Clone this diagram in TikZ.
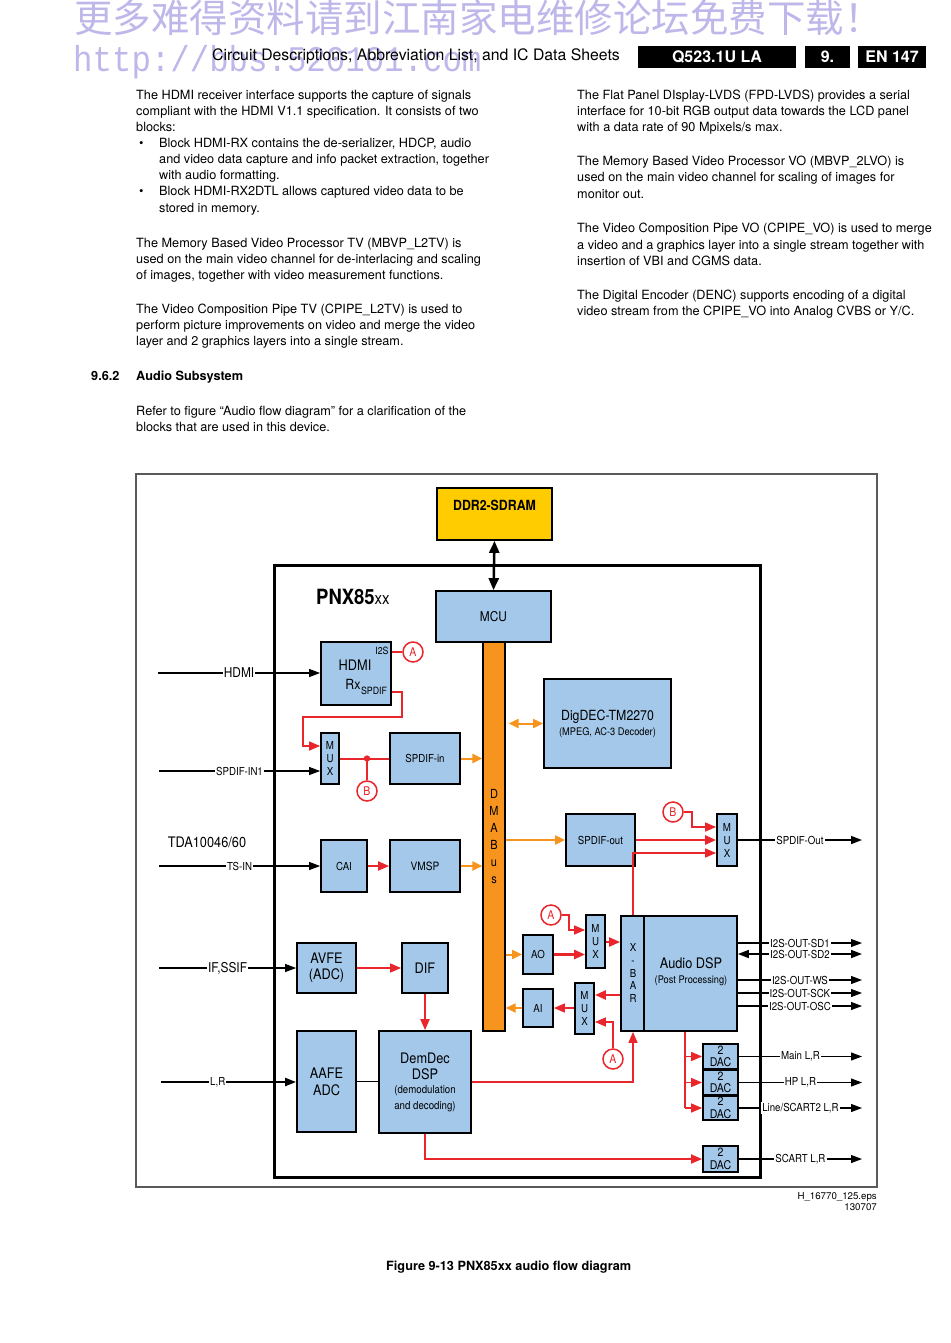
\documentclass[tikz,border=0pt]{standalone}
\usepackage{fontspec}
\setmainfont{TeX Gyre Heros}
\newfontfamily\nar[FakeStretch=0.88]{TeX Gyre Heros}
\newfontfamily\cjk{Noto Sans CJK SC}
\newfontfamily\wmono[FakeStretch=0.9]{Liberation Mono}
\usetikzlibrary{arrows.meta}
\definecolor{blu}{RGB}{163,200,234}
\definecolor{org}{RGB}{247,148,29}
\definecolor{yel}{RGB}{255,204,0}
\definecolor{rd}{RGB}{232,38,43}
\definecolor{wm}{RGB}{190,183,234}
\definecolor{frm}{RGB}{90,90,90}
\newcommand\blkbox[7][]{\node[blk,minimum width={(#5)-(#3)},minimum height={(#6)-(#4)},#1] (#2) at ({((#3)+(#5))/2},{((#4)+(#6))/2}) {#7};}
\newcommand\bt[4]{\node[bodyt] (#1) at (#2,#3) {#4};}
\tikzset{
  blk/.style={draw=black,line width=1.8,fill=blu,inner sep=0,align=center,font=\nar\fontsize{14}{16}\selectfont},
  bodyt/.style={anchor=base west,inner sep=0,font=\fontsize{12.7}{14}\selectfont},
  hbox/.style={fill=black,text=white,inner sep=0,minimum height=22,font=\bfseries\fontsize{16}{16}\selectfont},
  lbl/.style={fill=white,inner sep=1.2,font=\nar\fontsize{11}{11}\selectfont},
  circ/.style={circle,draw=rd,line width=1.5,fill=white,minimum size=20,inner sep=0,text=rd,font=\nar\fontsize{12}{12}\selectfont},
  inl/.style={line width=1.1,-{Triangle[length=11pt,width=8pt]}},
  outl/.style={line width=1.1,-{Triangle[length=11pt,width=8pt]}},
  red1/.style={draw=rd,line width=1.5},
  redar/.style={draw=rd,line width=1.5,-{Triangle[length=11pt,width=9pt]}},
  orar/.style={draw=org,line width=2,-{Triangle[length=10pt,width=9pt]}},
  sml/.style={inner sep=0,font=\nar\fontsize{10}{10}\selectfont}
}
\begin{document}
\begin{tikzpicture}[x=1pt,y=-1pt]
\useasboundingbox (0,0) rectangle (950,1343);
\fill[white] (0,0) rectangle (950,1343);
% watermark
\node[anchor=base west,inner sep=0,text=wm,font=\cjk\fontsize{38.5}{38.5}\selectfont] (wm1) at (74,33) {更多难得资料请到江南家电维修论坛免费下载！};
\node[anchor=base west,inner sep=0,text=wm,font=\wmono\fontsize{36}{36}\selectfont] (wm2) at (73,72) {http://bbs.520101.com};
% header
\node[anchor=base west,inner sep=0,font=\fontsize{15.8}{16}\selectfont] (hdr) at (212,61) {Circuit Descriptions, Abbreviation List, and IC Data Sheets};
\node[hbox,minimum width=158] (hq) at (717,57) {Q523.1U LA};
\node[hbox,minimum width=45] (hn) at (827.5,57) {9.};
\node[hbox,minimum width=68] (he) at (892,57) {EN 147};
% left column
\bt{l1}{136}{100}{The HDMI receiver interface supports the capture of signals}
\bt{l2}{136}{116}{compliant with the HDMI V1.1 specification. It consists of two}
\bt{l3}{136}{132}{blocks:}
\bt{lb1}{139}{148}{•}
\bt{l4}{159}{148}{Block HDMI-RX contains the de-serializer, HDCP, audio}
\bt{l5}{159}{164}{and video data capture and info packet extraction, together}
\bt{l6}{159}{180}{with audio formatting.}
\bt{lb2}{139}{196}{•}
\bt{l7}{159}{196}{Block HDMI-RX2DTL allows captured video data to be}
\bt{l8}{159}{212}{stored in memory.}
\bt{l9}{136}{247}{The Memory Based Video Processor TV (MBVP\_L2TV) is}
\bt{l10}{136}{263}{used on the main video channel for de-interlacing and scaling}
\bt{l11}{136}{279}{of images, together with video measurement functions.}
\bt{l12}{136}{313}{The Video Composition Pipe TV (CPIPE\_L2TV) is used to}
\bt{l13}{136}{329}{perform picture improvements on video and merge the video}
\bt{l14}{136}{345}{layer and 2 graphics layers into a single stream.}
\node[bodyt,font=\bfseries\fontsize{12.7}{14}\selectfont] (hnum) at (91,380) {9.6.2};
\node[bodyt,font=\bfseries\fontsize{12.7}{14}\selectfont] (htit) at (136,380) {Audio Subsystem};
\bt{l15}{136}{415}{Refer to figure “Audio flow diagram” for a clarification of the}
\bt{l16}{136}{431}{blocks that are used in this device.}
% right column
\bt{r1}{577}{100}{The Flat Panel DIsplay-LVDS (FPD-LVDS) provides a serial}
\bt{r2}{577}{116}{interface for 10-bit RGB output data towards the LCD panel}
\bt{r3}{577}{132}{with a data rate of 90 Mpixels/s max.}
\bt{r4}{577}{166}{The Memory Based Video Processor VO (MBVP\_2LVO) is}
\bt{r5}{577}{182}{used on the main video channel for scaling of images for}
\bt{r6}{577}{198}{monitor out.}
\bt{r7}{577}{233}{The Video Composition Pipe VO (CPIPE\_VO) is used to merge}
\bt{r8}{577}{249}{a video and a graphics layer into a single stream together with}
\bt{r9}{577}{265}{insertion of VBI and CGMS data.}
\bt{r10}{577}{299}{The Digital Encoder (DENC) supports encoding of a digital}
\bt{r11}{577}{315}{video stream from the CPIPE\_VO into Analog CVBS or Y/C.}
% ---------------- diagram ----------------
\draw[frm,line width=1.2] (136,474) rectangle (877,1187);
\draw[line width=3] (274,565) rectangle (760,1177);
\node[anchor=west,inner sep=0] (pnx) at (316,597) {\bfseries\nar\fontsize{21}{21}\selectfont PNX85\mdseries\fontsize{17}{17}\selectfont xx};
\node[anchor=center,inner sep=0,font=\nar\fontsize{14.5}{15}\selectfont] (tda) at (207,842) {TDA10046/60};
% blocks
\blkbox[fill=yel]{ddr}{437}{488}{552}{540}{}
\node[inner sep=0,font=\bfseries\nar\fontsize{14}{14}\selectfont] (ddrt) at (494.5,505) {DDR2-SDRAM};
\blkbox[font=\nar\fontsize{13.5}{13.5}\selectfont]{mcu}{436}{591}{551}{642}{MCU}
\blkbox[fill=org,line width=1.2]{dma}{483}{642}{505}{1031}{}
\node[inner sep=0,align=center,font=\nar\fontsize{12.5}{17}\selectfont] (dmat) at (494,837) {D\\M\\A\\B\\u\\s};
\blkbox{hdmi}{321}{642}{391}{705}{}
\node[inner sep=0,font=\nar\fontsize{14.5}{14.5}\selectfont] (hdmit) at (355,665) {HDMI};
\node[inner sep=0,font=\nar\fontsize{14}{14}\selectfont] (rxt) at (353,684) {Rx};
\node[sml] (spdt) at (374,691) {SPDIF};
\node[sml] (i2st) at (382,651) {I2S};
\blkbox[font=\nar\fontsize{11}{13}\selectfont]{mux1}{321}{733}{339}{784}{M\\U\\X}
\blkbox[font=\nar\fontsize{11}{13}\selectfont]{spin}{390}{733}{460}{784}{SPDIF-in}
\blkbox{digdec}{544}{679}{671}{768}{DigDEC-TM2270\\[-1pt]{\fontsize{10.5}{12}\selectfont (MPEG, AC-3 Decoder)}}
\blkbox[font=\nar\fontsize{11}{13}\selectfont]{cai}{321}{840}{367}{892}{CAI}
\blkbox[font=\nar\fontsize{11.5}{13}\selectfont]{vmsp}{390}{840}{460}{892}{VMSP}
\blkbox[font=\nar\fontsize{11}{13}\selectfont]{spout}{566}{814}{635}{866}{SPDIF-out}
\blkbox[font=\nar\fontsize{11}{13}\selectfont]{mux2}{717}{814}{737}{866}{M\\U\\X}
\blkbox{dsp}{621}{916}{737}{1031}{}
\draw[line width=1.5] (644,916) -- (644,1031);
\node[inner sep=0,align=center,font=\nar\fontsize{14.5}{16}\selectfont] (dspt) at (691,972) {Audio DSP\\[-1pt]{\fontsize{10.5}{12}\selectfont (Post Processing)}};
\node[inner sep=0,align=center,font=\nar\fontsize{11}{12.7}\selectfont] (xbart) at (633,973) {X\\-\\B\\A\\R};
\blkbox[font=\nar\fontsize{11}{13}\selectfont]{ao}{523}{935}{553}{974}{AO}
\blkbox[font=\nar\fontsize{11}{13}\selectfont]{ai}{523}{989}{553}{1027}{AI}
\blkbox[font=\nar\fontsize{11}{13}\selectfont]{mux3}{586}{915}{605}{968}{M\\U\\X}
\blkbox[font=\nar\fontsize{11}{13}\selectfont]{mux4}{575}{983}{594}{1034}{M\\U\\X}
\blkbox[font=\nar\fontsize{12}{12.5}\selectfont]{dac1}{703}{1044}{738}{1069}{2\\DAC}
\blkbox[font=\nar\fontsize{12}{12.5}\selectfont]{dac2}{703}{1070}{738}{1095}{2\\DAC}
\blkbox[font=\nar\fontsize{12}{12.5}\selectfont]{dac3}{703}{1096}{738}{1120}{2\\DAC}
\blkbox[font=\nar\fontsize{12}{12.5}\selectfont]{dac4}{703}{1146}{738}{1172}{2\\DAC}
\blkbox[font=\nar\fontsize{14.5}{16}\selectfont]{avfe}{297}{943}{356}{993}{AVFE\\(ADC)}
\blkbox[font=\nar\fontsize{14.5}{16}\selectfont]{dif}{402}{943}{448}{993}{DIF}
\blkbox[font=\nar\fontsize{14.5}{17}\selectfont]{aafe}{297}{1031}{356}{1132}{AAFE\\ADC}
\blkbox[font=\nar\fontsize{14.5}{16}\selectfont]{demdec}{379}{1031}{471}{1133}{DemDec\\DSP\\[-2pt]{\fontsize{11}{12.5}\selectfont (demodulation}\\{\fontsize{11}{12.5}\selectfont and decoding)}}
% circles
\node[circ] (cA1) at (413,652) {A};
\node[circ] (cB1) at (367,791) {B};
\node[circ] (cB2) at (673,812) {B};
\node[circ] (cA2) at (551,915) {A};
\node[circ] (cA3) at (613,1059) {A};
% coordinates
\coordinate (iHdmi) at (158,673);
\coordinate (iSp) at (159,771);
\coordinate (iTs) at (159,866);
\coordinate (iIf) at (159,968);
\coordinate (iLr) at (161,1082);
\coordinate (b1) at (402,717);
\coordinate (b2) at (303,746);
\coordinate (dot1) at (367,758.5);
\coordinate (b3) at (692,827);
\coordinate (b4) at (633,853);
\coordinate (b5) at (569,930);
\coordinate (b6) at (613,1022);
\coordinate (b7) at (633,1082);
\coordinate (b8) at (685,1056.5);
\coordinate (b9) at (685,1082.5);
\coordinate (b10) at (685,1108);
\coordinate (b11) at (425,1159);
\coordinate (oSp) at (862,840);
\coordinate (o1) at (862,943);
\coordinate (o2) at (862,954);
\coordinate (o3) at (862,980);
\coordinate (o4) at (862,993);
\coordinate (o5) at (862,1006);
\coordinate (oM) at (862,1056.5);
\coordinate (oH) at (862,1082.5);
\coordinate (oL) at (862,1108);
\coordinate (oS) at (862,1159);
% connectors
\draw[line width=2.5,{Triangle[length=12pt,width=10pt]}-{Triangle[length=12pt,width=10pt]}] (ddr.south) -- (mcu.north);
\draw[inl] (iHdmi) -- node[lbl,font=\nar\fontsize{13.5}{13.5}\selectfont]{HDMI} (hdmi.west |- iHdmi);
\draw[red1] (hdmi.east |- cA1) -- (cA1.west);
\draw[redar] (hdmi.east |- 0,692) -| (b1) -| (b2) -- (mux1.west |- b2);
\draw[inl] (iSp) -- node[lbl]{SPDIF-IN1} (mux1.west |- iSp);
\draw[red1,line width=2] (mux1.east) -- (spin.west);
\fill[rd] (dot1) circle (3.2);
\draw[red1] (dot1) -- (cB1.north);
\draw[orar] (spin.east) -- (dma.west |- spin.east);
\draw[orar,{Triangle[length=10pt,width=9pt]}-{Triangle[length=10pt,width=9pt]},shorten <=3pt] (dma.east |- digdec.west) -- (digdec.west);
\draw[inl] (iTs) -- node[lbl]{TS-IN} (cai.west |- iTs);
\draw[redar,line width=2] (cai.east) -- (vmsp.west);
\draw[orar] (vmsp.east) -- (dma.west |- vmsp.east);
\draw[orar] (dma.east |- spout.west) -- (spout.west);
\draw[redar,line width=2.5] (spout.east) -- (mux2.west |- spout.east);
\draw[redar] (cB2.east) -| (b3) -- (mux2.west |- b3);
\draw[redar] (dsp.north -| b4) -- (b4) -- (mux2.west |- b4);
\draw[outl,line width=1.6] (mux2.east |- oSp) -- node[lbl]{SPDIF-Out} (oSp);
\draw[redar] (cA2.east) -| (b5) -- (mux3.west |- b5);
\draw[orar] (dma.east |- ao.west) -- (ao.west);
\draw[redar,line width=2.5] (ao.east) -- (mux3.west |- ao.east);
\draw[redar,line width=2] (mux3.east |- 0,942) -- (dsp.west |- 0,942);
\draw[redar,line width=2.5] (dsp.west |- 0,995) -- (mux4.east |- 0,995);
\draw[redar] (mux4.west |- ai.east) -- (ai.east);
\draw[orar] (ai.west) -- (dma.east |- ai.west);
\draw[redar] (cA3.north) -- (b6) -- (mux4.east |- b6);
\draw[redar] (demdec.east |- b7) -- (b7) -- (dsp.south -| b7);
\draw[outl] (dsp.east |- o1) -- node[lbl]{I2S-OUT-SD1} (o1);
\draw[outl,{Triangle[length=11pt,width=8pt]}-{Triangle[length=11pt,width=8pt]},line width=1.6] (dsp.east |- o2) -- node[lbl]{I2S-OUT-SD2} (o2);
\draw[outl] (dsp.east |- o3) -- node[lbl]{I2S-OUT-WS} (o3);
\draw[outl] (dsp.east |- o4) -- node[lbl]{I2S-OUT-SCK} (o4);
\draw[outl] (dsp.east |- o5) -- node[lbl]{I2S-OUT-OSC} (o5);
\draw[red1] (dsp.south -| b8) -- (b10);
\draw[redar] (b8) -- (dac1.west);
\draw[redar] (b9) -- (dac2.west);
\draw[redar] (b10) -- (dac3.west);
\draw[outl] (dac1.east) -- node[lbl]{Main L,R} (oM);
\draw[outl] (dac2.east) -- node[lbl]{HP L,R} (oH);
\draw[outl] (dac3.east) -- node[lbl]{Line/SCART2 L,R} (oL);
\draw[outl] (dac4.east) -- node[lbl]{SCART L,R} (oS);
\draw[inl] (iIf) -- node[lbl,font=\nar\fontsize{13.5}{13.5}\selectfont]{IF,SSIF} (avfe.west |- iIf);
\draw[redar] (avfe.east) -- (dif.west);
\draw[redar,line width=2] (dif.south) -- (demdec.north -| dif.south);
\draw[inl,line width=2.2] (iLr) -- node[lbl,pos=0.42]{L,R} (aafe.west |- iLr);
\draw[line width=1] (aafe.east) -- (demdec.west |- aafe.east);
\draw[redar,line width=1.8] (demdec.south -| b11) -- (b11) -- (dac4.west |- b11);
% footer
\node[anchor=base east,inner sep=0,font=\fontsize{9.7}{10}\selectfont] (eps) at (877,1199) {H\_16770\_125.eps};
\node[anchor=base east,inner sep=0,font=\fontsize{9.7}{10}\selectfont] (dat) at (877,1210) {130707};
\node[anchor=base west,inner sep=0,font=\bfseries\fontsize{12.7}{14}\selectfont] (cap) at (386,1270) {Figure 9-13 PNX85xx audio flow diagram};
\end{tikzpicture}
\end{document}
